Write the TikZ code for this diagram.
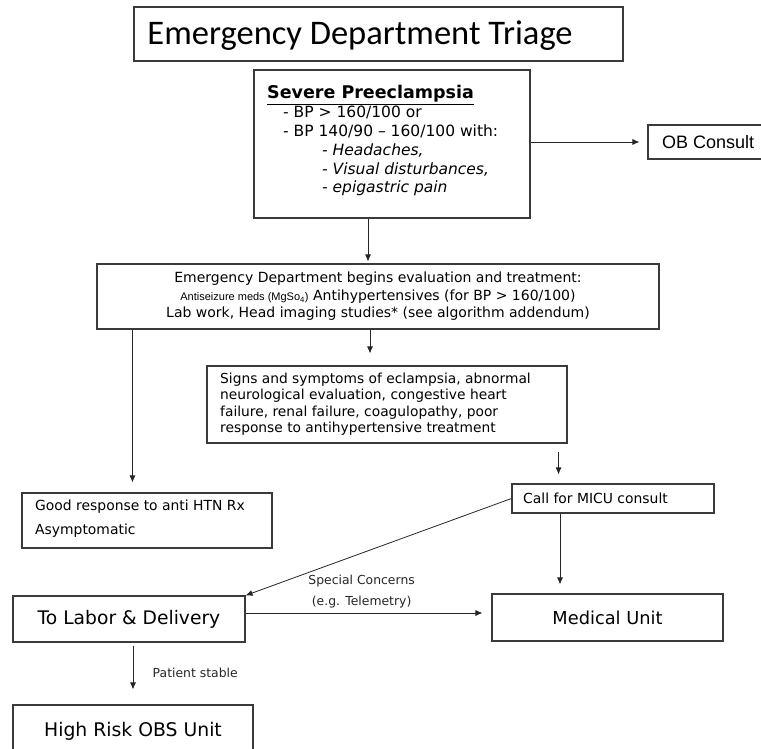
\documentclass[tikz,border=0pt]{standalone}
\usepackage{fontspec}
\usepackage{tikz}
\usetikzlibrary{arrows.meta, positioning, calc}
\setmainfont{DejaVu Sans}
\newfontfamily\titlefont{Carlito}
\newfontfamily\arialfont{Liberation Sans}
\definecolor{boxline}{HTML}{3A3A3A}

\begin{document}
\begin{tikzpicture}[x=1pt, y=-1pt,
    bx/.style={draw=boxline, line width=1.1pt, inner sep=0pt,
               minimum width=#1, align=center},
    arr/.style={-{Latex[length=7pt, width=6pt]}, line width=0.8pt, black!85},
    lbl/.style={font=\fontsize{12.4}{14}\selectfont},
]
    \useasboundingbox (0,0) rectangle (761,749);
    \clip (0,0) rectangle (761,749);

    \node[bx=489pt, minimum height=54pt] (title) at (378.5, 34) {};
    \node[inner sep=0pt, font=\titlefont\fontsize{34.5}{36}\selectfont]
        (titletxt) at (360, 36) {Emergency Department Triage};

    \node[bx=276pt, minimum height=148pt] (severe) at (392, 144) {};
    \node[anchor=north west, align=left, inner sep=0pt,
          font=\fontsize{15.5}{18.8}\selectfont] (severetxt) at (267, 85.5) {%
        \textbf{\fontsize{17.5}{19}\selectfont\underline{Severe Preeclampsia}}\\
        \hspace*{16pt}- BP > 160/100 or\\
        \hspace*{16pt}- BP 140/90 -- 160/100 with:\\
        \hspace*{55pt}\textit{- Headaches,}\\
        \hspace*{55pt}\textit{- Visual disturbances,}\\
        \hspace*{55pt}\textit{- epigastric pain}};

    \node[bx=122pt, minimum height=34pt] (ob) at (709, 142) {};
    \node[anchor=west, inner sep=0pt, font=\arialfont\fontsize{18}{20}\selectfont]
        (obtxt) at (662, 142) {OB Consult};

    % evaluation
    \node[bx=562pt, minimum height=65pt, font=\fontsize{14}{17.5}\selectfont]
        (ed) at (378, 296.5) {%
        Emergency Department begins evaluation and treatment:\\
        {\arialfont\fontsize{11}{12}\selectfont Antiseizure meds (MgSo\textsubscript{4})} Antihypertensives (for BP > 160/100)\\
        Lab work, Head imaging studies* (see algorithm addendum)};

    \node[bx=360pt, minimum height=77pt] (signs) at (387, 404.5) {};
    \node[anchor=north west, align=left, inner sep=0pt,
          font=\fontsize{13.8}{16.2}\selectfont] (signstxt) at (220, 373) {%
        Signs and symptoms of eclampsia, abnormal\\
        neurological evaluation, congestive heart\\
        failure, renal failure, coagulopathy, poor\\
        response to antihypertensive treatment};

    \node[bx=250pt, minimum height=55pt] (good) at (147, 520.5) {};
    \node[anchor=north west, align=left, inner sep=0pt,
          font=\fontsize{13.9}{24}\selectfont] (goodtxt) at (35, 500) {%
        Good response to anti HTN Rx\\
        Asymptomatic};

    \node[bx=202pt, minimum height=29pt] (micu) at (613, 498.5) {};
    \node[anchor=west, inner sep=0pt, font=\fontsize{13.9}{15}\selectfont]
        (micutxt) at (523, 498.5) {Call for MICU consult};

    % destinations
    \node[bx=232pt, minimum height=46pt, font=\fontsize{18.7}{21}\selectfont]
        (labor) at (129, 619) {To Labor \& Delivery};
    \node[bx=231pt, minimum height=47pt, font=\fontsize{17.8}{20}\selectfont]
        (medical) at (607.5, 617.5) {Medical Unit};
    \node[bx=240pt, minimum height=55pt] (highrisk) at (133, 732.5) {};
    \node[inner sep=0pt, font=\fontsize{18.8}{21}\selectfont]
        (highrisktxt) at (133, 731) {High Risk OBS Unit};

    % connectors
    \coordinate (obtip) at ([xshift=-8pt]ob.west);
    \draw[arr] (severe.east |- obtip) -- (obtip);

    \coordinate (s1) at ([xshift=-24pt]severe.south);
    \draw[arr] (s1) -- ([yshift=2pt]s1 |- ed.north);

    \coordinate (e1) at ([xshift=36pt]ed.south west);
    \draw[arr] (e1) -- ([yshift=10pt]e1 |- good.north);

    \coordinate (e2) at ([xshift=-8pt]ed.south);
    \draw[arr] (e2) -- ([yshift=12pt]e2 |- signs.north);

    \coordinate (g1) at ([xshift=-9pt]signs.south east);
    \draw[arr] ([yshift=-8pt]g1) -- ([yshift=9pt]g1 |- micu.north);

    \draw[arr] (micu.west) -- (labor.north east);

    \coordinate (m1) at ([xshift=-53pt]micu.south);
    \draw[arr] (m1) -- ([yshift=9pt]m1 |- medical.north);

    \coordinate (l1) at ([yshift=6pt]labor.east);
    \draw[arr] (l1) -- ([xshift=-9pt]l1 -| medical.west)
        node[lbl, pos=0.49, above=22pt] (spec) {Special Concerns}
        node[lbl, pos=0.49, above=1pt] (tele) {(e.g. Telemetry)};

    \coordinate (l2) at ([xshift=4pt, yshift=-3pt]labor.south);
    \draw[arr] (l2) -- ([yshift=15pt]l2 |- highrisk.north)
        node[lbl, pos=0.62, right=16pt] (stable) {Patient stable};
\end{tikzpicture}
\end{document}
